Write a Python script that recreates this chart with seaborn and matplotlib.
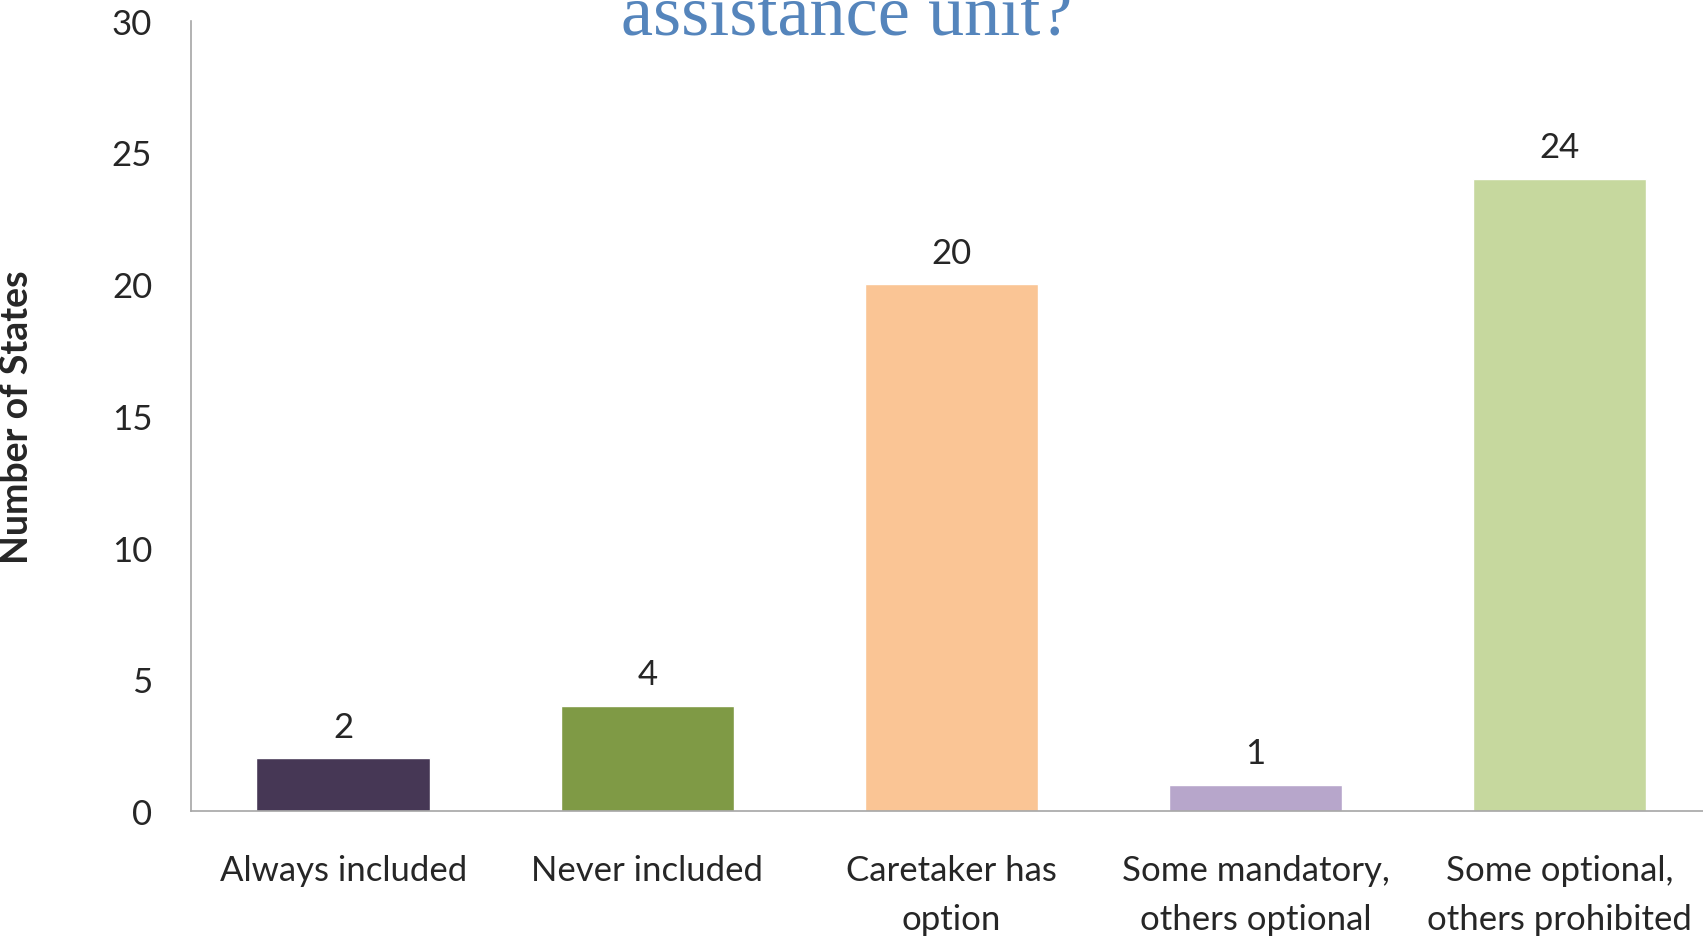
import matplotlib
matplotlib.use("Agg")
import matplotlib.pyplot as plt
import seaborn as sns
import pandas as pd

categories = ["Always included", "Never included", "Caretaker has\noption",
              "Some mandatory,\nothers optional", "Some optional,\nothers prohibited"]
values = [2, 4, 20, 1, 24]
colors = ["#463755", "#7F9A45", "#FAC595", "#B7A6CB", "#C6D89E"]
yticks = [0, 5, 10, 15, 20, 25, 30]
title_text = "assistance unit?"
ylabel = "Number of States"

sns.set_theme(style="white")
plt.rcParams['font.family'] = ['Lato', 'DejaVu Sans']

df = pd.DataFrame({"cat": categories, "val": values})

fig = plt.figure(figsize=(17.03, 9.37), dpi=100)
ax = fig.add_axes([0.1122, 0.1334, 0.893, 0.8436])
sns.barplot(data=df, x="cat", y="val", hue="cat", palette=colors, legend=False,
            width=0.57, ax=ax, saturation=1)
ax.set_xlim(-0.5, 4.5)
ax.set_ylim(0, 30)
ax.set_yticks(yticks)
ax.set_yticklabels([str(t) for t in yticks], fontsize=25)
ax.tick_params(axis='x', labelsize=25, pad=31, length=0)
ax.tick_params(axis='y', pad=28, length=0)
for lbl in ax.get_xticklabels():
    lbl.set_linespacing(1.65)
ax.set_xlabel("")
ax.set_ylabel(ylabel, fontsize=27, fontweight="bold", labelpad=56)
for s in ["top", "right"]:
    ax.spines[s].set_visible(False)
for s in ["left", "bottom"]:
    ax.spines[s].set_color("#A6A6A6")
    ax.spines[s].set_linewidth(1.2)

for cont in ax.containers:
    ax.bar_label(cont, fmt="%d", padding=11, fontsize=25)

fig.text(0.497, 1 - 35/937, title_text, ha="center", va="baseline",
         fontsize=52, color="#5585BC", family=["Liberation Serif", "DejaVu Serif"])

fig.savefig("out.png", dpi=100)
